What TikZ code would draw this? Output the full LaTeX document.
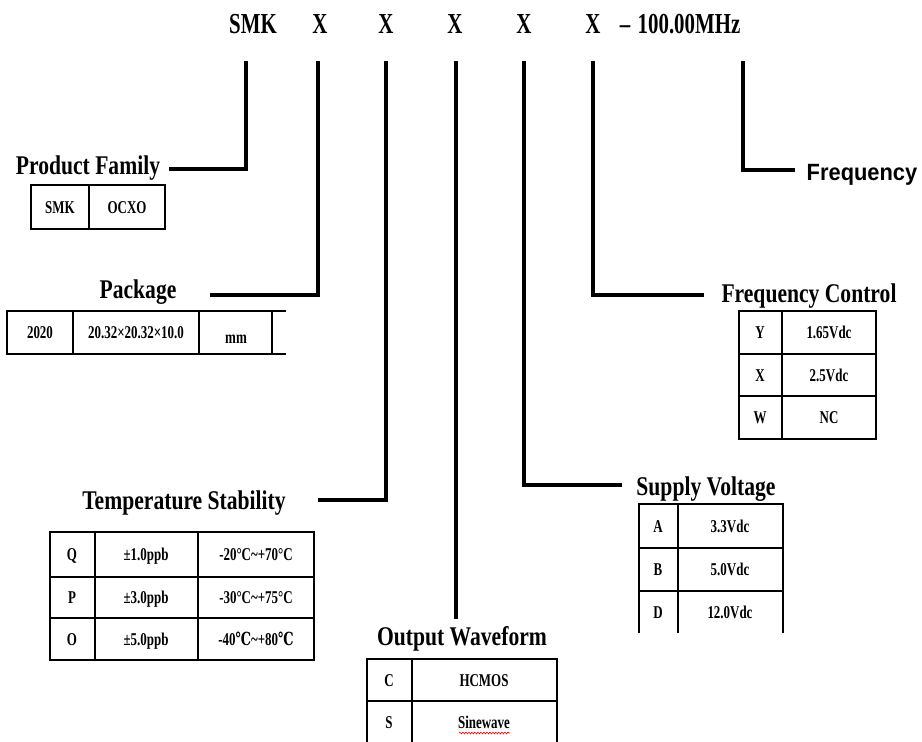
\documentclass[tikz,border=0pt]{standalone}
\usepackage{fontspec}
\setmainfont{Liberation Serif}
\newfontfamily\titlefont[FakeStretch=0.72]{Liberation Serif}
\newfontfamily\labfont[FakeStretch=0.8]{Liberation Serif}
\newfontfamily\cellfont[FakeStretch=0.72]{Liberation Serif}
\newfontfamily\cellsym[FakeStretch=0.72]{DejaVu Serif}
\newfontfamily\sfreq[FakeStretch=0.93]{Liberation Sans}
\usetikzlibrary{decorations.pathmorphing}
\newcommand{\degc}{{\cellsym ℃}}
\begin{document}
\begin{tikzpicture}[x=1pt,y=-1pt,
 conn/.style={line width=3.2pt, line join=miter, line cap=rect},
 grid/.style={line width=1.4pt},
 ttl/.style={font=\titlefont\bfseries\fontsize{29}{32}\selectfont, anchor=base, inner sep=0pt},
 lab/.style={font=\labfont\bfseries\fontsize{27}{30}\selectfont, anchor=base, inner sep=0pt},
 cell/.style={font=\cellfont\bfseries\fontsize{18}{20}\selectfont, anchor=base, inner sep=0pt},
]
\useasboundingbox (0,0) rectangle (922,742);

% ---------- title ----------
\node[ttl] (smk) at (253,33) {SMK};
\node[ttl] (x1) at (320,33) {X};
\node[ttl] (x2) at (386,33) {X};
\node[ttl] (x3) at (455,33) {X};
\node[ttl] (x4) at (524,33) {X};
\node[ttl] (x5) at (593,33) {X};
\node[ttl] (dash) at (625,33) {–};
\node[ttl] (mhz) at (689,33) {100.00MHz};

% ---------- labels ----------
\node[lab] (pf) at (88,174) {Product Family};
\node[lab] (pkg) at (138,298) {Package};
\node[lab] (ts) at (184,509) {Temperature Stability};
\node[lab] (ow) at (462,645) {Output Waveform};
\node[lab] (sv) at (706,495) {Supply Voltage};
\node[lab] (fc) at (809,302) {Frequency Control};
\node[font=\sfreq\bfseries\fontsize{23.5}{26}\selectfont, anchor=base, inner sep=0pt] (fr) at (862,180) {Frequency};

% ---------- connector points ----------
\coordinate (t0) at (246,63);
\coordinate (t1) at (318,63);
\coordinate (t2) at (386,63);
\coordinate (t3) at (456,63);
\coordinate (t4) at (524,63);
\coordinate (t5) at (593,63);
\coordinate (t6) at (743,63);
\coordinate (e0) at (171,169);
\coordinate (e1) at (212,295);
\coordinate (e2) at (320,500);
\coordinate (e3) at (456,617);
\coordinate (e4) at (620,485);
\coordinate (e5) at (702,295);
\coordinate (e6) at (793,170);

\draw[conn] (t0) |- (e0);
\draw[conn] (t1) |- (e1);
\draw[conn] (t2) |- (e2);
\draw[conn] (t3) -- (e3);
\draw[conn] (t4) |- (e4);
\draw[conn] (t5) |- (e5);
\draw[conn] (t6) |- (e6);

% ---------- Product Family table ----------
\draw[grid] (31,185) rectangle (165,229);
\draw[grid] (89,185) -- (89,229);
\node[cell] (pf1) at (60,213) {SMK};
\node[cell] (pf2) at (127,213) {OCXO};

% ---------- Package table ----------
\draw[grid] (286,311) -- (7,311) -- (7,354) -- (286,354);
\draw[grid] (73,311) -- (73,354);
\draw[grid] (199,311) -- (199,354);
\draw[grid] (272,311) -- (272,354);
\node[cell] (pk1) at (40,338) {2020};
\node[cell] (pk2) at (136,338) {20.32×20.32×10.0};
\node[cell] (pk3) at (236,343) {mm};

% ---------- Temperature Stability table ----------
\draw[grid] (50,532) rectangle (314,660);
\draw[grid] (50,577) -- (314,577);
\draw[grid] (50,618) -- (314,618);
\draw[grid] (95,532) -- (95,660);
\draw[grid] (198,532) -- (198,660);
\node[cell] (tq) at (72,560) {Q};
\node[cell] (tq2) at (146,560) {±1.0ppb};
\node[cell] (tq3) at (256,560) {-20°C\textasciitilde+70°C};
\node[cell] (tp) at (72,603) {P};
\node[cell] (tp2) at (146,603) {±3.0ppb};
\node[cell] (tp3) at (256,603) {-30°C\textasciitilde+75°C};
\node[cell] (to) at (72,645) {O};
\node[cell] (to2) at (146,645) {±5.0ppb};
\node[cell] (to3) at (256,645) {-40\degc\textasciitilde+80\degc};

% ---------- Output Waveform table ----------
\draw[grid] (367,742) -- (367,659) -- (557,659) -- (557,742);
\draw[grid] (367,701) -- (557,701);
\draw[grid] (412,659) -- (412,742);
\node[cell] (oc) at (389,686) {C};
\node[cell] (oc2) at (484,686) {HCMOS};
\node[cell] (os) at (389,728) {S};
\node[cell] (os2) at (484,728) {Sinewave};
\draw[red, line width=0.6pt, decorate, decoration={snake, amplitude=0.9pt, segment length=3pt}] (459,733) -- (510,733);

% ---------- Supply Voltage table ----------
\draw[grid] (639,633) -- (639,504) -- (783,504) -- (783,633);
\draw[grid] (639,548) -- (783,548);
\draw[grid] (639,591) -- (783,591);
\draw[grid] (678,504) -- (678,633);
\node[cell] (sa) at (658,532) {A};
\node[cell] (sa2) at (730,532) {3.3Vdc};
\node[cell] (sb) at (658,575) {B};
\node[cell] (sb2) at (730,575) {5.0Vdc};
\node[cell] (sd) at (658,618) {D};
\node[cell] (sd2) at (730,618) {12.0Vdc};

% ---------- Frequency Control table ----------
\draw[grid] (739,311) rectangle (876,439);
\draw[grid] (739,354) -- (876,354);
\draw[grid] (739,396) -- (876,396);
\draw[grid] (782,311) -- (782,439);
\node[cell] (fy) at (760,338) {Y};
\node[cell] (fy2) at (829,338) {1.65Vdc};
\node[cell] (fx) at (760,381) {X};
\node[cell] (fx2) at (829,381) {2.5Vdc};
\node[cell] (fw) at (760,423) {W};
\node[cell] (fw2) at (829,423) {NC};
\end{tikzpicture}
\end{document}
